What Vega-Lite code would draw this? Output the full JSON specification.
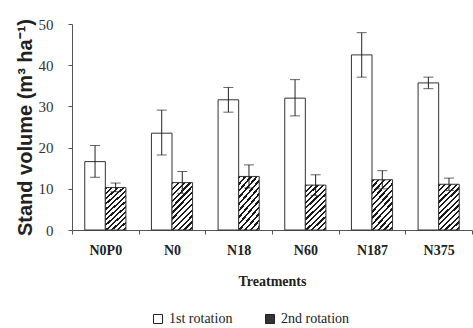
{
  "$schema": "https://vega.github.io/schema/vega-lite/v6.json",
  "width": 400,
  "height": 206,
  "autosize": {"type": "none"},
  "padding": {"left": 72, "top": 24, "right": 1, "bottom": 98},
  "background": "white",
  "config": {
    "view": {"stroke": null},
    "axis": {"grid": false, "domainColor": "#555", "tickColor": "#555"}
  },
  "data": {
    "values": [
      {"treatment": "N0P0", "rotation": "1st rotation", "volume": 16.6, "lo": 12.8, "hi": 20.5},
      {"treatment": "N0P0", "rotation": "2nd rotation", "volume": 10.3, "lo": 9.3, "hi": 11.4},
      {"treatment": "N0", "rotation": "1st rotation", "volume": 23.5, "lo": 18.2, "hi": 29.1},
      {"treatment": "N0", "rotation": "2nd rotation", "volume": 11.5, "lo": 8.9, "hi": 14.2},
      {"treatment": "N18", "rotation": "1st rotation", "volume": 31.6, "lo": 28.6, "hi": 34.6},
      {"treatment": "N18", "rotation": "2nd rotation", "volume": 13.0, "lo": 10.2, "hi": 15.8},
      {"treatment": "N60", "rotation": "1st rotation", "volume": 32.0, "lo": 27.7, "hi": 36.5},
      {"treatment": "N60", "rotation": "2nd rotation", "volume": 10.9, "lo": 8.4, "hi": 13.4},
      {"treatment": "N187", "rotation": "1st rotation", "volume": 42.5, "lo": 37.1, "hi": 47.9},
      {"treatment": "N187", "rotation": "2nd rotation", "volume": 12.2, "lo": 10.0, "hi": 14.4},
      {"treatment": "N375", "rotation": "1st rotation", "volume": 35.7, "lo": 34.3, "hi": 37.1},
      {"treatment": "N375", "rotation": "2nd rotation", "volume": 11.1, "lo": 9.6, "hi": 12.6}
    ]
  },
  "encoding": {
    "x": {
      "field": "treatment",
      "type": "nominal",
      "sort": ["N0P0", "N0", "N18", "N60", "N187", "N375"],
      "scale": {"paddingInner": 0, "paddingOuter": 0},
      "axis": {
        "title": "Treatments",
        "labelAngle": 0,
        "tickBand": "extent",
        "tickSize": 4,
        "labelFont": "Liberation Serif",
        "labelFontWeight": "bold",
        "labelFontSize": 14,
        "labelColor": "#222",
        "labelPadding": 9,
        "titleFont": "Liberation Serif",
        "titleFontWeight": "bold",
        "titleFontSize": 14,
        "titleColor": "#222",
        "titlePadding": 17
      }
    },
    "xOffset": {
      "field": "rotation",
      "type": "nominal",
      "sort": ["1st rotation", "2nd rotation"],
      "scale": {"paddingInner": 0, "paddingOuter": 0.62}
    }
  },
  "layer": [
    {
      "mark": {"type": "bar", "stroke": "#333", "strokeWidth": 1},
      "encoding": {
        "y": {
          "field": "volume",
          "type": "quantitative",
          "scale": {"domain": [0, 50]},
          "axis": {
            "title": "Stand volume (m³ ha⁻¹)",
            "values": [0, 10, 20, 30, 40, 50],
            "tickSize": 4,
            "labelFont": "Liberation Serif",
            "labelFontSize": 15,
            "labelColor": "#333",
            "labelPadding": 15,
            "titleFont": "Liberation Sans",
            "titleFontWeight": "bold",
            "titleFontSize": 20,
            "titleColor": "#222",
            "titlePadding": 3
          }
        },
        "fill": {
          "field": "rotation",
          "type": "nominal",
          "scale": {"domain": ["1st rotation", "2nd rotation"], "range": ["white", "#333"]},
          "condition": {
            "test": "datum.rotation === '2nd rotation'",
            "value": {
              "gradient": "linear",
              "x1": 0, "y1": 0, "x2": 0.55, "y2": 1.24,
              "stops": [
                {"offset": 0, "color": "#1a1a1a"}, {"offset": 0.0333, "color": "#1a1a1a"},
                {"offset": 0.0333, "color": "white"}, {"offset": 0.0833, "color": "white"},
                {"offset": 0.0833, "color": "#1a1a1a"}, {"offset": 0.1167, "color": "#1a1a1a"},
                {"offset": 0.1167, "color": "white"}, {"offset": 0.1667, "color": "white"},
                {"offset": 0.1667, "color": "#1a1a1a"}, {"offset": 0.2, "color": "#1a1a1a"},
                {"offset": 0.2, "color": "white"}, {"offset": 0.25, "color": "white"},
                {"offset": 0.25, "color": "#1a1a1a"}, {"offset": 0.2833, "color": "#1a1a1a"},
                {"offset": 0.2833, "color": "white"}, {"offset": 0.3333, "color": "white"},
                {"offset": 0.3333, "color": "#1a1a1a"}, {"offset": 0.3667, "color": "#1a1a1a"},
                {"offset": 0.3667, "color": "white"}, {"offset": 0.4167, "color": "white"},
                {"offset": 0.4167, "color": "#1a1a1a"}, {"offset": 0.45, "color": "#1a1a1a"},
                {"offset": 0.45, "color": "white"}, {"offset": 0.5, "color": "white"},
                {"offset": 0.5, "color": "#1a1a1a"}, {"offset": 0.5333, "color": "#1a1a1a"},
                {"offset": 0.5333, "color": "white"}, {"offset": 0.5833, "color": "white"},
                {"offset": 0.5833, "color": "#1a1a1a"}, {"offset": 0.6167, "color": "#1a1a1a"},
                {"offset": 0.6167, "color": "white"}, {"offset": 0.6667, "color": "white"},
                {"offset": 0.6667, "color": "#1a1a1a"}, {"offset": 0.7, "color": "#1a1a1a"},
                {"offset": 0.7, "color": "white"}, {"offset": 0.75, "color": "white"},
                {"offset": 0.75, "color": "#1a1a1a"}, {"offset": 0.7833, "color": "#1a1a1a"},
                {"offset": 0.7833, "color": "white"}, {"offset": 0.8333, "color": "white"},
                {"offset": 0.8333, "color": "#1a1a1a"}, {"offset": 0.8667, "color": "#1a1a1a"},
                {"offset": 0.8667, "color": "white"}, {"offset": 0.9167, "color": "white"},
                {"offset": 0.9167, "color": "#1a1a1a"}, {"offset": 0.95, "color": "#1a1a1a"},
                {"offset": 0.95, "color": "white"}, {"offset": 1, "color": "white"}
              ]
            }
          },
          "legend": {
            "title": null,
            "orient": "none",
            "direction": "horizontal",
            "legendX": 79,
            "legendY": 288,
            "symbolType": "square",
            "symbolSize": 81,
            "symbolStrokeColor": "#222",
            "symbolStrokeWidth": 1,
            "labelFont": "Liberation Serif",
            "labelFontSize": 14,
            "labelColor": "#222",
            "columnPadding": 30,
            "encode": {
              "symbols": {
                "update": {
                  "opacity": {"value": 1},
                  "stroke": {"value": "#222"},
                  "strokeWidth": {"value": 1},
                  "fill": [
                    {
                      "test": "datum.index === 1",
                      "value": {
                        "gradient": "linear",
                        "x1": 0, "y1": 0, "x2": 1, "y2": 1,
                        "stops": [
                          {"offset": 0, "color": "#1a1a1a"}, {"offset": 0.12, "color": "#1a1a1a"},
                          {"offset": 0.12, "color": "white"}, {"offset": 0.25, "color": "white"},
                          {"offset": 0.25, "color": "#1a1a1a"}, {"offset": 0.37, "color": "#1a1a1a"},
                          {"offset": 0.37, "color": "white"}, {"offset": 0.5, "color": "white"},
                          {"offset": 0.5, "color": "#1a1a1a"}, {"offset": 0.62, "color": "#1a1a1a"},
                          {"offset": 0.62, "color": "white"}, {"offset": 0.75, "color": "white"},
                          {"offset": 0.75, "color": "#1a1a1a"}, {"offset": 0.87, "color": "#1a1a1a"},
                          {"offset": 0.87, "color": "white"}, {"offset": 1, "color": "white"}
                        ]
                      }
                    },
                    {"value": "white"}
                  ]
                }
              }
            }
          }
        }
      }
    },
    {
      "mark": {"type": "rule", "color": "#222", "strokeWidth": 1},
      "encoding": {
        "y": {"field": "lo", "type": "quantitative"},
        "y2": {"field": "hi"}
      }
    },
    {
      "mark": {"type": "tick", "color": "#222", "size": 10, "thickness": 1},
      "encoding": {"y": {"field": "hi", "type": "quantitative"}}
    },
    {
      "mark": {"type": "tick", "color": "#222", "size": 10, "thickness": 1},
      "encoding": {"y": {"field": "lo", "type": "quantitative"}}
    }
  ]
}
